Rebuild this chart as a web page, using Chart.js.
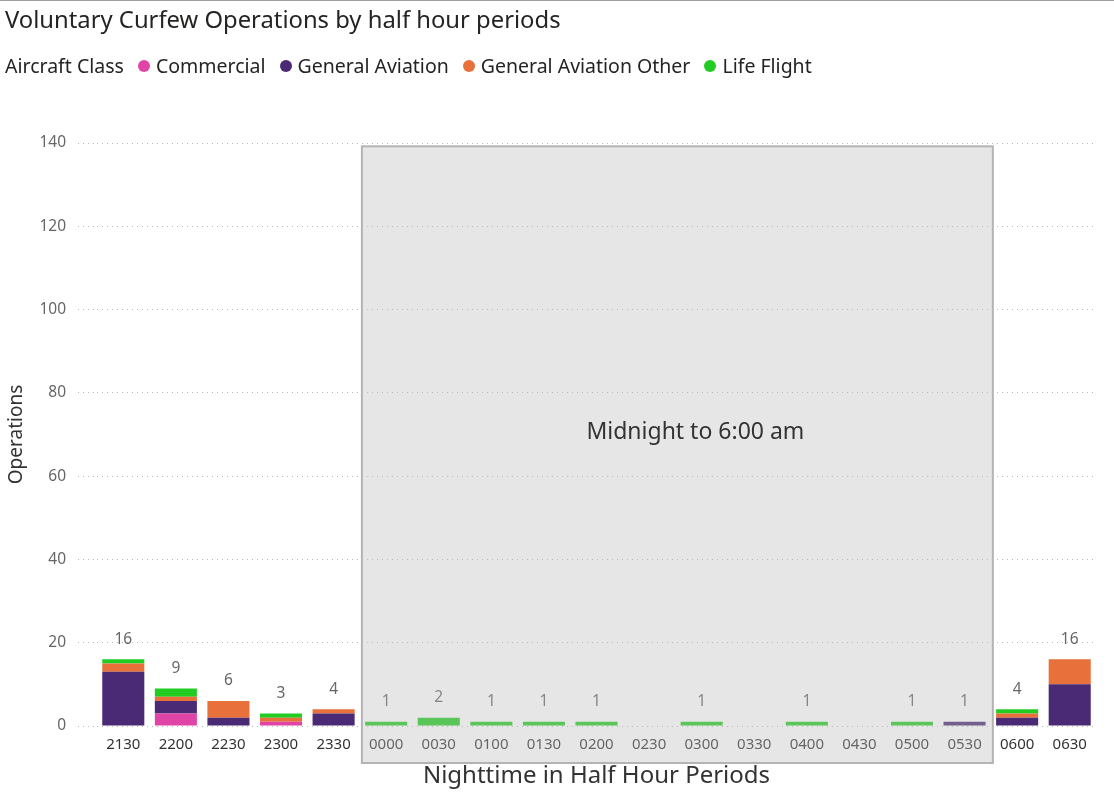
<!DOCTYPE html>
<html>
<head>
<meta charset="utf-8">
<script src="https://cdn.jsdelivr.net/npm/chart.js@4.4.1/dist/chart.umd.min.js"></script>
<style>
  html, body { margin: 0; padding: 0; background: #fff; }
  body { width: 1114px; height: 793px; position: relative; overflow: hidden; font-family: "Segoe UI", "Noto Sans", "Open Sans", sans-serif; }
  #topline { position: absolute; left: 0; top: 0; width: 1114px; height: 1px; background: #a0a0a0; }
  #title { position: absolute; left: 5px; top: 3px; font-size: 23.8px; line-height: 32px; color: #252423; white-space: nowrap; }
  #legend { position: absolute; left: 5px; top: 52px; font-size: 19.5px; line-height: 28px; color: #252423; white-space: nowrap; display: flex; align-items: center; }
  #legend .item { display: flex; align-items: center; margin-left: 14px; }
  #legend .dot { width: 12px; height: 12px; border-radius: 50%; margin-right: 6px; }
  canvas { position: absolute; left: 0; top: 0; }
</style>
</head>
<body>
<canvas id="c" width="1114" height="793"></canvas>
<div id="topline"></div>
<div id="title">Voluntary Curfew Operations by half hour periods</div>
<div id="legend"><span>Aircraft Class</span></div>
<script>
const categories = ['2130','2200','2230','2300','2330','0000','0030','0100','0130','0200','0230','0300','0330','0400','0430','0500','0530','0600','0630'];
const seriesNames = ['Commercial','General Aviation','General Aviation Other','Life Flight'];
const commercial = [0,3,0,1,0, 0,0,0,0,0,0,0,0,0,0,0,0, 0,0];
const generalAviation = [13,3,2,0,3, 0,0,0,0,0,0,0,0,0,0,0,1, 2,10];
const generalAviationOther = [2,1,4,1,1, 0,0,0,0,0,0,0,0,0,0,0,0, 1,6];
const lifeFlight = [1,2,0,1,0, 1,2,1,1,1,0,1,0,1,0,1,0, 1,0];
const yTicks = [0,20,40,60,80,100,120,140];
const shadeFrom = '0000';
const shadeTo = '0530';
const shadeLabel = 'Midnight to 6:00 am';
const colors = ['#e044a7','#4a2a74','#e8703a','#22cc22'];

const legend = document.getElementById('legend');
seriesNames.forEach((n,i)=>{
  const it = document.createElement('span'); it.className='item';
  const d = document.createElement('span'); d.className='dot'; d.style.background=colors[i];
  it.appendChild(d); it.appendChild(document.createTextNode(n)); legend.appendChild(it);
});

const seriesValues = [commercial, generalAviation, generalAviationOther, lifeFlight];
const FONT = '"Segoe UI", "Noto Sans", sans-serif';

const totalsPlugin = {
  id: 'totals',
  afterDatasetsDraw(chart) {
    const ctx = chart.ctx, x = chart.scales.x, y = chart.scales.y;
    ctx.save();
    ctx.font = '15.5px ' + FONT;
    ctx.fillStyle = '#666';
    ctx.textAlign = 'center';
    ctx.textBaseline = 'middle';
    categories.forEach((c,i)=>{
      const t = seriesValues.reduce((s,a)=>s+a[i],0);
      if (t > 0) ctx.fillText(String(t), x.getPixelForValue(i), y.getPixelForValue(t) - 20);
    });
    ctx.restore();
  }
};

const shadePlugin = {
  id: 'shade',
  afterDraw(chart) {
    const ctx = chart.ctx, x = chart.scales.x, y = chart.scales.y;
    const i0 = categories.indexOf(shadeFrom), i1 = categories.indexOf(shadeTo);
    const left = x.getPixelForValue(i0 - 0.5) + 2;
    const right = x.getPixelForValue(i1 + 0.5) + 2;
    const top = y.getPixelForValue(139.2);
    const bottom = chart.chartArea.bottom + 37;
    ctx.save();
    ctx.fillStyle = 'rgba(187,187,187,0.37)';
    ctx.fillRect(left, top, right-left, bottom-top);
    ctx.strokeStyle = '#b4b4b4';
    ctx.lineWidth = 2;
    ctx.strokeRect(left, top, right-left, bottom-top);
    ctx.font = '23px ' + FONT;
    ctx.fillStyle = '#333';
    ctx.textAlign = 'center';
    ctx.textBaseline = 'middle';
    ctx.fillText(shadeLabel, (left+right)/2 + 18, y.getPixelForValue(70.5));
    ctx.restore();
  }
};

new Chart(document.getElementById('c'), {
  type: 'bar',
  data: {
    labels: categories,
    datasets: seriesNames.map((n,i)=>({
      label: n, data: seriesValues[i], backgroundColor: colors[i],
      categoryPercentage: 1, barPercentage: 0.8, borderWidth: 0
    }))
  },
  options: {
    responsive: false,
    animation: false,
    devicePixelRatio: 1,
    layout: { padding: { top: 143, right: 18, left: 0, bottom: 0 } },
    plugins: { legend: { display: false }, title: { display: false }, tooltip: { enabled: false } },
    scales: {
      x: {
        stacked: true,
        grid: { display: false, drawTicks: false },
        border: { display: false },
        ticks: { color: '#333', font: { size: 15, family: FONT }, padding: 10, maxRotation: 0, autoSkip: false },
        title: { display: true, text: 'Nighttime in Half Hour Periods', color: '#333', font: { size: 24, family: FONT }, padding: { top: 4, bottom: 2 } },
        afterFit(s) { s.height = 67; }
      },
      y: {
        stacked: true,
        min: 0, max: 140,
        afterBuildTicks(s) { s.ticks = yTicks.map(v=>({value:v})); },
        grid: { color: '#b8b8b8', lineWidth: 1, tickLength: 19, tickColor: '#b8b8b8', tickBorderDash: [1,4], drawTicks: true },
        border: { display: false, dash: [1,4] },
        ticks: { color: '#666', font: { size: 15.5, family: FONT }, padding: 12 },
        title: { display: true, text: 'Operations', color: '#333', font: { size: 19, family: FONT }, padding: { top: 5, bottom: 0 } },
        afterFit(s) { s.width = 97; }
      }
    }
  },
  plugins: [totalsPlugin, shadePlugin]
});
</script>
</body>
</html>
